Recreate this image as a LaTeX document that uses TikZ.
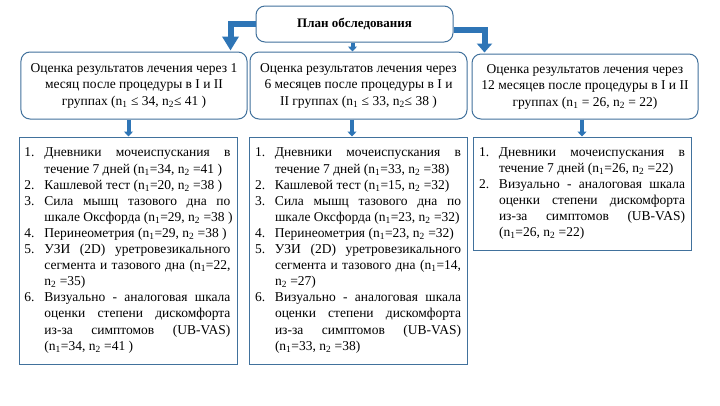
\documentclass[tikz,border=0pt]{standalone}
\usepackage{fontspec}
\setmainfont{Liberation Serif}
\usetikzlibrary{arrows.meta,calc}
\definecolor{arrblue}{HTML}{2E75B6}
\definecolor{boxblue}{HTML}{41719C}
\newcommand\jl[1]{\makebox[186bp][s]{#1}}
\newcommand\nl[2]{\makebox[20bp][l]{#1}#2}
\newcommand\na{n\textsubscript{1}}
\newcommand\nb{n\textsubscript{2}}
\begin{document}
\begin{tikzpicture}[x=1bp,y=-1bp,
 hdr/.style={draw=boxblue,line width=1bp,rounded corners=9bp,align=center,inner sep=0pt,font=\fontsize{13.5bp}{16.5bp}\selectfont},
 lst/.style={draw=boxblue,line width=1bp,align=left,inner sep=0pt,font=\fontsize{13.5bp}{16.1bp}\selectfont},
 bigarr/.style={draw=arrblue,line width=6bp,line join=miter,-{Triangle[width=16bp,length=14bp]}},
 smallarr/.style={draw=arrblue,line width=4bp,-{Triangle[width=9bp,length=5bp]}}]
\useasboundingbox[fill=white] (0,0) rectangle (720,405);

\node[hdr, minimum width=197bp, minimum height=36bp, font=\bfseries\fontsize{13bp}{15bp}\selectfont] (top) at (354.5,24) {План обследования};

\node[hdr, minimum width=226bp, minimum height=67bp] (h1) at (134,85.5)
 {Оценка результатов лечения через 1\\месяц после процедуры в I и II\\группах (\na{} ≤ 34, \nb{}≤ 41 )};
\node[hdr, minimum width=217bp, minimum height=67bp] (h2) at (358.5,85.5)
 {Оценка результатов лечения через\\6 месяцев после процедуры в I и\\II группах (\na{} ≤ 33, \nb{}≤ 38 )};
\node[hdr, minimum width=226bp, minimum height=65bp] (h3) at (585,86.5)
 {Оценка результатов лечения через\\12 месяцев после процедуры в I и II\\группах (\na{} = 26, \nb{} = 22)};

\node[lst, minimum width=217bp, minimum height=227bp] (l1) at (128.5,250.5) {%
\nl{1.}{\jl{Дневники мочеиспускания в}}\\
\nl{}{течение 7 дней (\na=34, \nb{} =41 )}\\
\nl{2.}{Кашлевой тест (\na=20, \nb{} =38 )}\\
\nl{3.}{\jl{Сила мышц тазового дна по}}\\
\nl{}{шкале Оксфорда (\na=29, \nb{} =38 )}\\
\nl{4.}{Перинеометрия (\na=29, \nb{} =38 )}\\
\nl{5.}{\jl{УЗИ (2D) уретровезикального}}\\
\nl{}{\jl{сегмента и тазового дна (\na=22,}}\\
\nl{}{\nb{} =35)}\\
\nl{6.}{\jl{Визуально - аналоговая шкала}}\\
\nl{}{\jl{оценки степени дискомфорта}}\\
\nl{}{\jl{из-за симптомов (UB-VAS)}}\\
\nl{}{(\na=34, \nb{} =41 )}};

\node[lst, minimum width=218bp, minimum height=227bp] (l2) at (358,250.5) {%
\nl{1.}{\jl{Дневники мочеиспускания в}}\\
\nl{}{течение 7 дней (\na=33, \nb{} =38)}\\
\nl{2.}{Кашлевой тест (\na=15, \nb{} =32)}\\
\nl{3.}{\jl{Сила мышц тазового дна по}}\\
\nl{}{шкале Оксфорда (\na=23, \nb{} =32)}\\
\nl{4.}{Перинеометрия (\na=23, \nb{} =32)}\\
\nl{5.}{\jl{УЗИ (2D) уретровезикального}}\\
\nl{}{\jl{сегмента и тазового дна (\na=14,}}\\
\nl{}{\nb{} =27)}\\
\nl{6.}{\jl{Визуально - аналоговая шкала}}\\
\nl{}{\jl{оценки степени дискомфорта}}\\
\nl{}{\jl{из-за симптомов (UB-VAS)}}\\
\nl{}{(\na=33, \nb{} =38)}};

\node[lst, minimum width=218bp, minimum height=113bp] (l3) at (582,193.5) {%
\nl{1.}{\jl{Дневники мочеиспускания в}}\\
\nl{}{течение 7 дней (\na=26, \nb{} =22)}\\
\nl{2.}{\jl{Визуально - аналоговая шкала}}\\
\nl{}{\jl{оценки степени дискомфорта}}\\
\nl{}{\jl{из-за симптомов (UB-VAS)}}\\
\nl{}{(\na=26, \nb{} =22)}};

\coordinate (tm) at ($(top.south)+(-2,0)$);
\draw[bigarr] (top.west) -| ($(h1.north east)+(-17,-1)$);
\draw[bigarr,-{Triangle[width=15bp,length=9bp]}] ($(top.east)+(0,6)$) -| ($(h3.north west)+(13,-1)$);
\draw[smallarr] (tm) -- (tm |- h2.north);
\draw[smallarr] (l1.north |- h1.south) -- (l1.north);
\draw[smallarr] ($(l2.north |- h2.south)+(-6,0)$) -- ($(l2.north)+(-6,0)$);
\draw[smallarr] (l3.north |- h3.south) -- (l3.north);
\end{tikzpicture}
\end{document}
